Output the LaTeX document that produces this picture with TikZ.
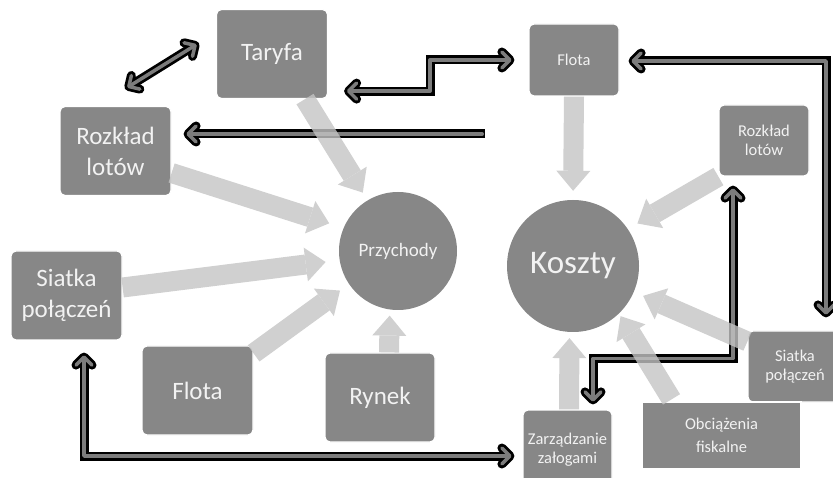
\documentclass[tikz,border=0pt]{standalone}
\usepackage{fontspec}
\setmainfont{Carlito}
\usetikzlibrary{arrows.meta,calc}
\definecolor{boxgray}{HTML}{878787}
\definecolor{flowgray}{HTML}{C4C4C4}
\definecolor{linkgray}{HTML}{7C7C7C}

\begin{document}
\begin{tikzpicture}[x=1pt,y=-1pt,
	box/.style={rectangle, rounded corners=5pt, fill=boxgray, draw=white, line width=1.2pt, text=white!95!black, align=center, inner sep=0pt},
	big/.style={box, minimum width=111pt, minimum height=89pt, font=\fontsize{25}{31}\selectfont},
	small/.style={box, font=\fontsize{16.5}{19}\selectfont},
	hub/.style={circle, fill=boxgray, text=white!95!black, inner sep=0pt},
	flow/.style={draw=flowgray, line width=20pt, -{Triangle[length=20pt,width=34pt,line width=0pt]}},
	link/.style={draw=linkgray, line width=3.5pt, line cap=round, line join=round, shorten >=2.75pt, shorten <=2.75pt,
		preaction={draw=black, line width=9pt, shorten >=0pt, shorten <=0pt}},
	tips/.style={{Straight Barb[round,length=8pt,width=16pt]}-{Straight Barb[round,length=8pt,width=16pt]}},
	endtip/.style={-{Straight Barb[round,length=8pt,width=16pt]}}]
	\clip (0,0) rectangle (833,478);

	% left side: revenue
	\node[big] (taryfa) at (272,54) {Taryfa};
	\node[big] (rozkladL) at (115.5,151) {Rozkład\\lotów};
	\node[big] (siatkaL) at (66.5,295.5) {Siatka\\połączeń};
	\node[big] (flotaB) at (197.5,390.5) {Flota};
	\node[big, minimum width=110pt] (rynek) at (380,397.5) {Rynek};
	\node[hub, minimum size=118pt, font=\fontsize{19}{22}\selectfont] (przych) at (398,251) {Przychody};

	% right side: costs
	\node[small, minimum width=90pt, minimum height=72pt] (flotaT) at (574,60) {Flota};
	\node[small, minimum width=90pt, minimum height=71pt] (rozkladR) at (764,140.5) {Rozkład\\lotów};
	\node[small, minimum width=94pt, minimum height=71pt] (siatkaR) at (795,366.5) {Siatka\\połączeń};
	\node[small, rounded corners=0pt, minimum width=159pt, minimum height=67pt] (obciaz) at (721.5,435.5) {Obciążenia\\[4pt]fiskalne};
	\node[small, minimum width=89pt, minimum height=80pt] (zarzad) at (567.5,450) {Zarządzanie\\załogami};
	\node[hub, minimum size=132pt, font=\fontsize{33}{38}\selectfont] (koszty) at (573,266) {Koszty};

	\coordinate (cEnd) at (485,134);

	% dark links
	\draw[link, tips] ($(rozkladL.north)+(9.5,-17)$) -- ($(taryfa.west)+(-17,-11)$);
	\draw[link, tips] ($(taryfa.south east)+(16,-8)$) -- ++(86,0) |- ($(flotaT.west)+(-14,0)$);
	\draw[link, endtip] (cEnd) -- ($(rozkladL.east)+(12,-17)$);
	\draw[link, tips] ($(flotaT.east)+(9,1)$) -| ($(siatkaR.north)+(31,-13)$);
	\draw[link, tips] ($(zarzad.north)+(25.5,-5)$) -- ++(0,-46) -| ($(rozkladR.south)+(-31,9)$);
	\draw[link, tips] ($(siatkaL.south)+(17.5,12)$) |- ($(zarzad.west)+(-8,6)$);

	% light flows
	\begin{scope}[transparency group, opacity=0.8]
	\draw[flow, shorten >=9pt] ($(taryfa.south)+(33,0)$) -- (przych.121);
	\draw[flow, shorten >=15pt] ($(rozkladL.east)+(0,22)$) -- (przych.157);
	\draw[flow, shorten >=14pt] ($(siatkaL.east)+(0,-8)$) -- (przych.189);
	\draw[flow, shorten >=11pt] ($(flotaB.north east)+(0,8)$) -- (przych.214);
	\draw[flow, shorten >=6pt] ($(rynek.north)+(9,0)$) -- (przych.262);
	\draw[flow, shorten >=9pt] (flotaT.south) -- (koszty.north);
	\draw[flow, shorten >=11pt] (rozkladR.south west) -- (koszty.34);
	\draw[flow, shorten >=10pt] ($(siatkaR.west)+(0,-25)$) -- (koszty.337);
	\draw[flow, shorten >=3pt] ($(obciaz.north)+(-50,-2)$) -- (koszty.314);
	\draw[flow, shorten >=6pt] ($(zarzad.north)+(1.5,0)$) -- (koszty.267);
	\end{scope}
\end{tikzpicture}
\end{document}
